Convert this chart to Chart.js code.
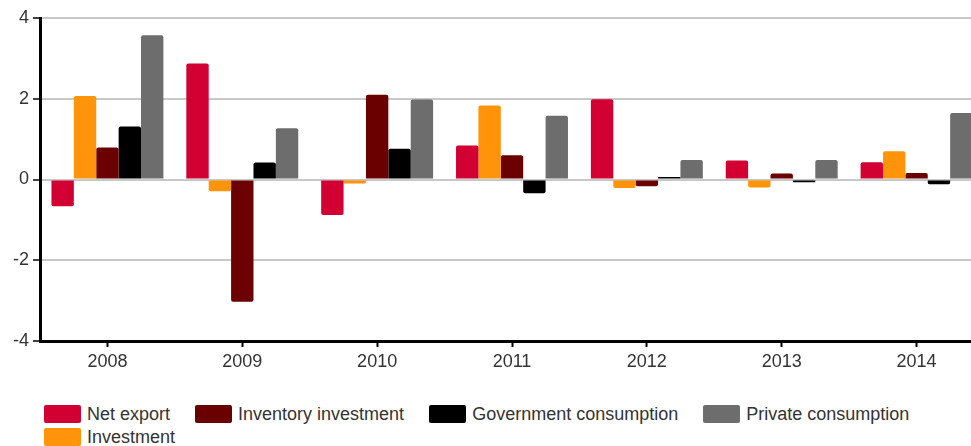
<!DOCTYPE html>
<html>
<head>
<meta charset="utf-8">
<script src="https://cdn.jsdelivr.net/npm/chart.js@4/dist/chart.umd.min.js"></script>
<style>
  html, body { margin: 0; padding: 0; background: #fff; overflow: hidden; }
  #wrap { position: relative; width: 971px; height: 446px; overflow: hidden; }
  #box { position: absolute; left: 0; top: 0; width: 984px; height: 372px; }
  #legenda {
    position: absolute; left: 44px; top: 405px; width: 900px;
    display: flex; flex-wrap: wrap; row-gap: 5px;
    font-family: "Liberation Sans", Arial, sans-serif; font-size: 18px; color: #333;
  }
  .item { display: flex; align-items: center; height: 18px; margin-right: 25px; }
  .cor { width: 37px; height: 18px; border-radius: 2px; margin-right: 6px; }
</style>
</head>
<body>
<div id="wrap">
  <div id="box"><canvas id="grafico"></canvas></div>
  <div id="legenda"></div>
</div>
<script>
const anos = ['2008', '2009', '2010', '2011', '2012', '2013', '2014']

const netExport = [-0.66, 2.87, -0.88, 0.84, 1.99, 0.47, 0.43]
const investment = [2.07, -0.29, -0.10, 1.83, -0.21, -0.20, 0.70]
const inventoryInvestment = [0.79, -3.03, 2.10, 0.60, -0.17, 0.15, 0.16]
const governmentConsumption = [1.31, 0.42, 0.76, -0.34, 0.06, -0.07, -0.12]
const privateConsumption = [3.57, 1.27, 1.98, 1.58, 0.48, 0.48, 1.65]

const yTicks = [-4, -2, 0, 2, 4]

const fonte = { family: '"Liberation Sans", Arial, sans-serif', size: 18 }

var series = [
  { label: 'Net export', data: netExport, cor: '#d20032' },
  { label: 'Investment', data: investment, cor: '#ff930a' },
  { label: 'Inventory investment', data: inventoryInvestment, cor: '#6b0000' },
  { label: 'Government consumption', data: governmentConsumption, cor: '#000000' },
  { label: 'Private consumption', data: privateConsumption, cor: '#6d6d6d' }
]

// ordem da legenda (investment fica na segunda linha)
var ordemLegenda = [0, 2, 3, 4, 1]

var ctx = document.getElementById('grafico').getContext('2d')
new Chart(ctx, {
  type: 'bar',
  data: {
    labels: anos,
    datasets: series.map(s => ({
      label: s.label,
      data: s.data,
      backgroundColor: s.cor,
      borderWidth: 0,
      borderRadius: 2,
      categoryPercentage: 0.83,
      barPercentage: 1.0
    }))
  },
  options: {
    responsive: true,
    maintainAspectRatio: false,
    animation: false,
    layout: { padding: { top: 18, right: 0, bottom: 0, left: 0 } },
    plugins: {
      legend: { display: false },
      tooltip: { enabled: false }
    },
    scales: {
      x: {
        grid: { display: true, drawOnChartArea: false, offset: false, tickColor: '#000', tickLength: 6, tickWidth: 2 },
        border: { color: '#000', width: 3 },
        ticks: { color: '#333', font: fonte, padding: 4 },
        afterFit: s => { s.height = 31 }
      },
      y: {
        min: -4,
        max: 4,
        afterBuildTicks: s => { s.ticks = yTicks.map(v => ({ value: v })) },
        grid: { color: '#c8c8c8', lineWidth: 2, tickColor: '#000', tickLength: 7, tickWidth: 1.5 },
        border: { color: '#000', width: 3 },
        ticks: { color: '#333', font: fonte, padding: 4 },
        afterFit: s => { s.width = 40 }
      }
    }
  }
})

var legenda = document.getElementById('legenda')
ordemLegenda.forEach(i => {
  var item = document.createElement('div')
  item.className = 'item'
  item.innerHTML = '<span class="cor" style="background:' + series[i].cor + '"></span>' + series[i].label
  legenda.appendChild(item)
})
</script>
</body>
</html>
